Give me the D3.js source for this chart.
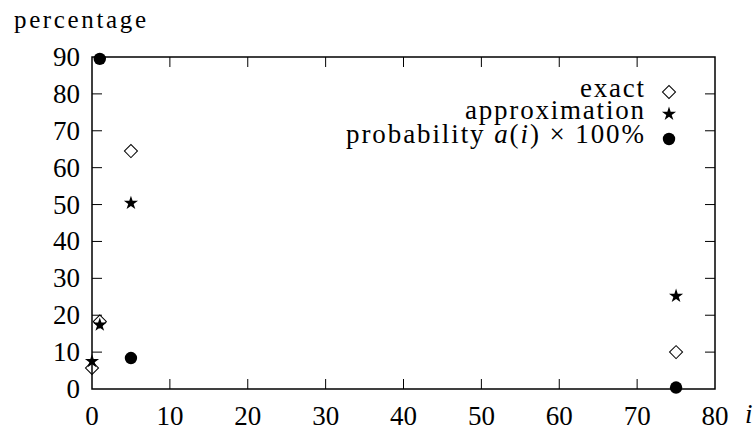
<!DOCTYPE html>
<html>
<head>
<meta charset="utf-8">
<script src="https://cdn.jsdelivr.net/npm/d3@7"></script>
<style>
  body { margin: 0; background: #fff; }
</style>
</head>
<body>
<svg id="chart" width="755" height="433" font-family="'Liberation Serif', 'Times New Roman', serif"></svg>
<script>
// values
const exactX = [0, 1, 5, 75];
const exactY = [5.7, 18.3, 64.5, 10];
const approxX = [0, 1, 5, 75];
const approxY = [7.5, 17.4, 50.4, 25.2];
const probX = [1, 5, 75];
const probY = [89.5, 8.4, 0.4];
const xTicks = [0, 10, 20, 30, 40, 50, 60, 70, 80];
const yTicks = [0, 10, 20, 30, 40, 50, 60, 70, 80, 90];
const legendLabels = ["exact", "approximation", "probability"];

const svg = d3.select("#chart");
const pLeft = 92, pRight = 715, pTop = 57, pBottom = 389;

const x = d3.scaleLinear().domain([0, 80]).range([pLeft, pRight]);
const y = d3.scaleLinear().domain([0, 90]).range([pBottom, pTop]);

const tickLen = 10;
const axisG = svg.append("g");

// inner ticks on all four sides, like gnuplot
xTicks.forEach(t => {
  if (t > 0 && t < 80) {
    axisG.append("line").attr("x1", x(t)).attr("x2", x(t))
      .attr("y1", pBottom).attr("y2", pBottom - tickLen).attr("stroke", "#000");
    axisG.append("line").attr("x1", x(t)).attr("x2", x(t))
      .attr("y1", pTop).attr("y2", pTop + tickLen).attr("stroke", "#000");
  }
  axisG.append("text").attr("x", x(t)).attr("y", 425)
    .attr("text-anchor", "middle").attr("font-size", 27).text(t);
});
yTicks.forEach(t => {
  if (t > 0 && t < 90) {
    axisG.append("line").attr("x1", pLeft).attr("x2", pLeft + tickLen)
      .attr("y1", y(t)).attr("y2", y(t)).attr("stroke", "#000");
    axisG.append("line").attr("x1", pRight).attr("x2", pRight - tickLen)
      .attr("y1", y(t)).attr("y2", y(t)).attr("stroke", "#000");
  }
  axisG.append("text").attr("x", 80).attr("y", y(t) + 9)
    .attr("text-anchor", "end").attr("font-size", 27).text(t);
});

axisG.append("rect").attr("x", pLeft).attr("y", pTop)
  .attr("width", pRight - pLeft).attr("height", pBottom - pTop)
  .attr("fill", "none").attr("stroke", "#000").attr("stroke-width", 1.5);

svg.append("text").attr("x", 14).attr("y", 28).attr("font-size", 25)
  .attr("textLength", 132).attr("lengthAdjust", "spacing").text("percentage");
svg.append("text").attr("x", 745).attr("y", 423).attr("font-size", 27)
  .attr("font-style", "italic").text("i");

// markers
const diamond = d3.symbol().type(d3.symbolSquare).size(85);
const star = d3.symbol().type(d3.symbolStar).size(62);

svg.append("g").selectAll("path").data(d3.zip(exactX, exactY)).join("path")
  .attr("d", diamond)
  .attr("transform", d => `translate(${x(d[0])},${y(d[1])}) rotate(45)`)
  .attr("fill", "none").attr("stroke", "#000").attr("stroke-width", 1);

svg.append("g").selectAll("path").data(d3.zip(approxX, approxY)).join("path")
  .attr("d", star)
  .attr("transform", d => `translate(${x(d[0])},${y(d[1])})`)
  .attr("fill", "#000");

svg.append("g").selectAll("circle").data(d3.zip(probX, probY)).join("circle")
  .attr("cx", d => x(d[0])).attr("cy", d => y(d[1])).attr("r", 6.2)
  .attr("fill", "#000");

// legend
const lg = svg.append("g").attr("font-size", 27);
const rowY = [97, 119, 143];
const textX = 644, markX = 669;

lg.append("text").attr("x", textX - 64).attr("y", rowY[0])
  .attr("textLength", 64).attr("lengthAdjust", "spacing").text(legendLabels[0]);
lg.append("text").attr("x", textX - 179).attr("y", rowY[1])
  .attr("textLength", 179).attr("lengthAdjust", "spacing").text(legendLabels[1]);
const t3 = lg.append("text").attr("x", textX - 298).attr("y", rowY[2])
  .attr("textLength", 298).attr("lengthAdjust", "spacing");
t3.append("tspan").text(legendLabels[2] + " ");
t3.append("tspan").attr("font-style", "italic").text("a");
t3.append("tspan").text("(");
t3.append("tspan").attr("font-style", "italic").text("i");
t3.append("tspan").text(") × 100%");

lg.append("path").attr("d", diamond)
  .attr("transform", `translate(${markX},${rowY[0] - 5}) rotate(45)`)
  .attr("fill", "none").attr("stroke", "#000");
lg.append("path").attr("d", star)
  .attr("transform", `translate(${markX},${rowY[1] - 5})`).attr("fill", "#000");
lg.append("circle").attr("cx", markX).attr("cy", rowY[2] - 4).attr("r", 6.2).attr("fill", "#000");
</script>
</body>
</html>
